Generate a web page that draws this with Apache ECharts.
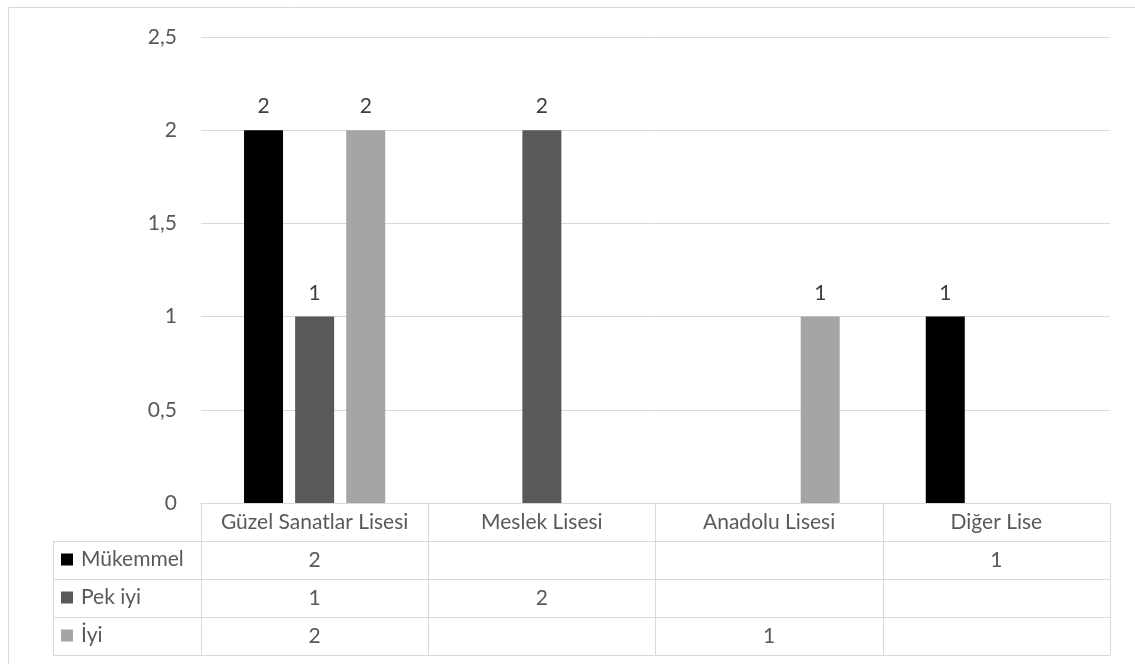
<!DOCTYPE html>
<html>
<head>
<meta charset="utf-8">
<script src="https://cdn.jsdelivr.net/npm/echarts@6/dist/echarts.min.js"></script>
<style>
html,body{margin:0;padding:0;background:#fff;}
#c{width:1135px;height:664px;}
</style>
</head>
<body>
<div id="c"></div>
<script>
const categories = ['Güzel Sanatlar Lisesi', 'Meslek Lisesi', 'Anadolu Lisesi', 'Diğer Lise'];
const seriesNames = ['Mükemmel', 'Pek iyi', 'İyi'];
const mukemmel = [2, null, null, 1];
const pekIyi = [1, 2, null, null];
const iyi = [2, null, 1, null];
const yTicks = { min: 0, max: 2.5, interval: 0.5 };

const seriesValues = [mukemmel, pekIyi, iyi];
const colors = ['#000000', '#595959', '#a5a5a5'];
const FONT = 'Lato';
const FS = 21;
const TXT = '#595959';
const LINE = '#d9d9d9';

const W = 1135, H = 664;
const GRID_LEFT = 201, GRID_RIGHT_X = 1110, GRID_TOP = 37, GRID_BOTTOM_Y = 503;
const ROW_H = 38;
const LEGEND_LEFT = 53;
const nRows = seriesValues.length;

const chart = echarts.init(document.getElementById('c'), null, { renderer: 'canvas' });

const xAxes = [];
xAxes.push({
  type: 'category', data: categories, position: 'bottom', offset: 0,
  axisLine: { show: true, lineStyle: { color: LINE, width: 1 } },
  axisTick: { show: true, length: ROW_H * (nRows + 1), lineStyle: { color: LINE, width: 1 } },
  axisLabel: { color: TXT, fontSize: FS, fontFamily: FONT, margin: 9, interval: 0 },
  splitLine: { show: false }
});
seriesValues.forEach((vals, r) => {
  xAxes.push({
    type: 'category', data: categories, position: 'bottom', offset: ROW_H * (r + 1),
    axisLine: { show: true, lineStyle: { color: LINE, width: 1 } },
    axisTick: { show: false },
    axisLabel: {
      color: TXT, fontSize: FS, fontFamily: FONT, margin: 9, interval: 0,
      formatter: (v, i) => (vals[i] == null ? '' : String(vals[i]))
    },
    splitLine: { show: false }
  });
});
xAxes.push({
  type: 'category', data: categories, position: 'bottom', offset: ROW_H * (nRows + 1),
  axisLine: { show: true, lineStyle: { color: LINE, width: 1 } },
  axisTick: { show: false }, axisLabel: { show: false }, splitLine: { show: false }
});

const graphics = [
  { type: 'rect', shape: { x: 8.5, y: 7.5, width: 1300, height: 800 }, style: { fill: null, stroke: LINE, lineWidth: 1 }, silent: true, z: -1 },
  { type: 'line', shape: { x1: LEGEND_LEFT + 0.5, y1: GRID_BOTTOM_Y + ROW_H, x2: LEGEND_LEFT + 0.5, y2: GRID_BOTTOM_Y + ROW_H * (nRows + 1) }, style: { stroke: LINE, lineWidth: 1 }, silent: true }
];
for (let r = 1; r <= nRows + 1; r++) {
  const y = GRID_BOTTOM_Y + ROW_H * r + 0.5;
  graphics.push({ type: 'line', shape: { x1: LEGEND_LEFT, y1: y, x2: GRID_LEFT, y2: y }, style: { stroke: LINE, lineWidth: 1 }, silent: true });
}

chart.setOption({
  animation: false,
  backgroundColor: '#fff',
  grid: { left: GRID_LEFT, right: W - GRID_RIGHT_X, top: GRID_TOP, bottom: H - GRID_BOTTOM_Y, containLabel: false },
  legend: {
    orient: 'vertical', left: LEGEND_LEFT + 8, top: GRID_BOTTOM_Y + ROW_H + 8, padding: 0,
    itemWidth: 12, itemHeight: 12, itemGap: ROW_H - 21, icon: 'rect',
    textStyle: { color: TXT, fontSize: FS, fontFamily: FONT, lineHeight: 21, padding: [0, 0, 0, 3] },
    data: seriesNames, selectedMode: false
  },
  xAxis: xAxes,
  yAxis: {
    type: 'value', min: yTicks.min, max: yTicks.max, interval: yTicks.interval,
    axisLine: { show: false }, axisTick: { show: false },
    axisLabel: { color: TXT, fontSize: FS, fontFamily: FONT, margin: 24, formatter: v => String(v).replace('.', ',') },
    splitLine: { lineStyle: { color: LINE, width: 1 } }
  },
  graphic: graphics,
  series: seriesValues.map((vals, i) => ({
    name: seriesNames[i], type: 'bar', xAxisIndex: 0, data: vals,
    barWidth: 39, barGap: '31%', barCategoryGap: '38%',
    itemStyle: { color: colors[i] },
    label: { show: true, position: 'top', distance: 13, color: '#404040', fontSize: FS, fontFamily: FONT }
  }))
});
</script>
</body>
</html>
